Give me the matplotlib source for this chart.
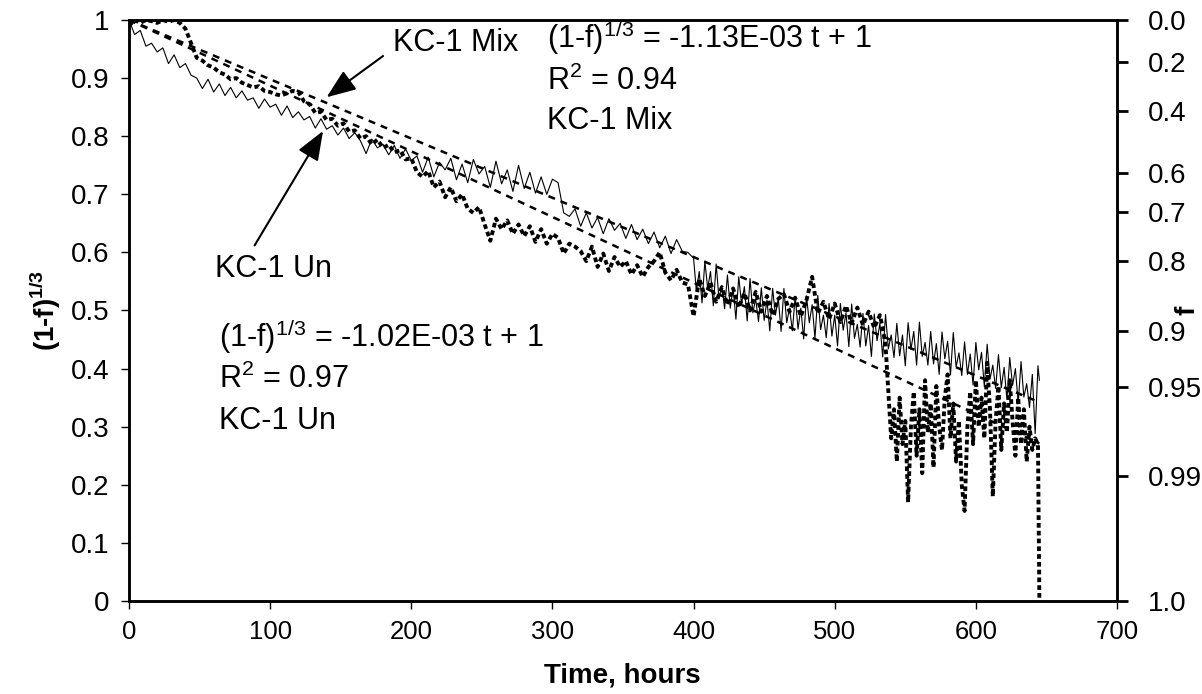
import numpy as np
import matplotlib
matplotlib.use("Agg")
import matplotlib.pyplot as plt

plt.rcParams["font.family"] = ["Liberation Sans", "DejaVu Sans"]
plt.rcParams["mathtext.fontset"] = "custom"
plt.rcParams["mathtext.rm"] = "Liberation Sans"
plt.rcParams["mathtext.bf"] = "Liberation Sans:bold"

# KC-1 Un: time (hours) and (1-f)^(1/3)
un_hours = [
    0, 4, 8, 12, 16, 20, 24, 28, 32, 36,
    40, 44, 48, 52, 56, 60, 64, 68, 72, 76,
    80, 84, 88, 92, 96, 100, 104, 108, 112, 116,
    120, 124, 128, 132, 136, 140, 144, 148, 152, 156,
    160, 164, 168, 172, 176, 180, 184, 188, 192, 196,
    200, 204, 208, 212, 216, 220, 224, 228, 232, 236,
    240, 244, 248, 252, 256, 260, 264, 268, 272, 276,
    280, 284, 288, 292, 296, 300, 304, 308, 312, 316,
    320, 324, 328, 332, 336, 340, 344, 348, 352, 356,
    360, 364, 368, 372, 376, 380, 384, 388, 392, 396,
    400, 402, 404, 406, 408, 410, 412, 414, 416, 418,
    420, 422, 424, 426, 428, 430, 432, 434, 436, 438,
    440, 442, 444, 446, 448, 450, 452, 454, 456, 458,
    460, 462, 464, 466, 468, 470, 472, 474, 476, 478,
    480, 482, 484, 486, 488, 490, 492, 494, 496, 498,
    500, 502, 504, 506, 508, 510, 512, 514, 516, 518,
    520, 522, 524, 526, 528, 530, 532, 534, 536, 538,
    540, 542, 544, 546, 548, 550, 552, 554, 556, 558,
    560, 562, 564, 566, 568, 570, 572, 574, 576, 578,
    580, 582, 584, 586, 588, 590, 592, 594, 596, 598,
    600, 602, 604, 606, 608, 610, 612, 614, 616, 618,
    620, 622, 624, 626, 628, 630, 632, 634, 636, 638,
    640, 642, 644, 645,
]
kc1_un = [
    1.0, 0.975, 0.982, 0.955, 0.96, 0.945, 0.952, 0.925, 0.94, 0.918,
    0.925, 0.905, 0.9, 0.882, 0.898, 0.876, 0.89, 0.87, 0.884, 0.866,
    0.878, 0.862, 0.866, 0.848, 0.864, 0.85, 0.855, 0.836, 0.852, 0.832,
    0.842, 0.828, 0.834, 0.814, 0.83, 0.812, 0.818, 0.802, 0.814, 0.796,
    0.806, 0.792, 0.77, 0.795, 0.78, 0.786, 0.768, 0.784, 0.762, 0.778,
    0.758, 0.766, 0.738, 0.764, 0.73, 0.755, 0.742, 0.762, 0.725, 0.752,
    0.72, 0.76, 0.735, 0.748, 0.712, 0.757, 0.718, 0.742, 0.705, 0.75,
    0.71, 0.738, 0.702, 0.73, 0.7, 0.726, 0.72, 0.668, 0.662, 0.675,
    0.645, 0.668, 0.642, 0.66, 0.632, 0.658, 0.638, 0.65, 0.624, 0.648,
    0.622, 0.64, 0.615, 0.635, 0.608, 0.628, 0.598, 0.622, 0.602, 0.6,
    0.590, 0.533, 0.567, 0.513, 0.585, 0.538, 0.567, 0.508, 0.580, 0.520,
    0.543, 0.503, 0.561, 0.504, 0.539, 0.485, 0.558, 0.511, 0.541, 0.482,
    0.555, 0.496, 0.520, 0.481, 0.539, 0.483, 0.518, 0.465, 0.538, 0.492,
    0.522, 0.464, 0.538, 0.479, 0.504, 0.465, 0.524, 0.468, 0.504, 0.451,
    0.525, 0.479, 0.510, 0.452, 0.526, 0.467, 0.492, 0.453, 0.512, 0.456,
    0.492, 0.439, 0.512, 0.466, 0.496, 0.438, 0.511, 0.452, 0.476, 0.437,
    0.495, 0.439, 0.474, 0.421, 0.494, 0.448, 0.478, 0.420, 0.493, 0.434,
    0.458, 0.419, 0.478, 0.422, 0.458, 0.405, 0.479, 0.433, 0.464, 0.406,
    0.480, 0.421, 0.445, 0.406, 0.464, 0.408, 0.443, 0.390, 0.463, 0.417,
    0.447, 0.389, 0.462, 0.403, 0.427, 0.388, 0.446, 0.390, 0.425, 0.372,
    0.445, 0.398, 0.428, 0.369, 0.442, 0.382, 0.406, 0.366, 0.424, 0.367,
    0.402, 0.347, 0.419, 0.371, 0.400, 0.340, 0.412, 0.351, 0.374, 0.333,
    0.390, 0.288, 0.405, 0.38,
]

# KC-1 Mix: time (hours) and (1-f)^(1/3)
mix_hours = [
    0, 4, 8, 12, 16, 20, 24, 28, 32, 36,
    40, 44, 48, 52, 56, 60, 64, 68, 72, 76,
    80, 84, 88, 92, 96, 100, 104, 108, 112, 116,
    120, 124, 128, 132, 136, 140, 144, 148, 152, 156,
    160, 164, 168, 172, 176, 180, 184, 188, 192, 196,
    200, 204, 208, 212, 216, 220, 224, 228, 232, 236,
    240, 244, 248, 252, 256, 260, 264, 268, 272, 276,
    280, 284, 288, 292, 296, 300, 304, 308, 312, 316,
    320, 324, 328, 332, 336, 340, 344, 348, 352, 356,
    360, 364, 368, 372, 376, 380, 384, 388, 392, 396,
    400, 404, 408, 412, 416, 420, 424, 428, 432, 436,
    440, 444, 448, 452, 456, 460, 464, 468, 472, 476,
    480, 484, 488, 492, 496, 500, 504, 508, 512, 516,
    520, 524, 528, 532,
    534, 536, 538, 540, 542, 544, 546, 548, 550, 552,
    554, 556, 558, 560, 562, 564, 566, 568, 570, 572,
    574, 576, 578, 580, 582, 584, 586, 588, 590, 592,
    594, 596, 598, 600, 602, 604, 606, 608, 610, 612,
    614, 616, 618, 620, 622, 624, 626, 628, 630, 632,
    634, 636, 638, 640, 642, 644, 645,
]
kc1_mix = [
    0.99, 1.0, 0.995, 1.0, 0.998, 0.995, 1.0, 0.997, 1.0, 0.995,
    0.985, 0.96, 0.935, 0.93, 0.922, 0.918, 0.91, 0.906, 0.898, 0.9,
    0.892, 0.888, 0.884, 0.886, 0.878, 0.876, 0.872, 0.87, 0.874, 0.878,
    0.876, 0.86, 0.855, 0.84, 0.842, 0.828, 0.83, 0.818, 0.822, 0.808,
    0.81, 0.796, 0.8, 0.786, 0.794, 0.78, 0.785, 0.772, 0.776, 0.76,
    0.762, 0.738, 0.73, 0.74, 0.712, 0.722, 0.695, 0.712, 0.688, 0.7,
    0.675, 0.668, 0.678, 0.648, 0.62, 0.658, 0.64, 0.655, 0.632, 0.648,
    0.628, 0.645, 0.618, 0.64, 0.615, 0.632, 0.625, 0.598, 0.615, 0.61,
    0.602, 0.585, 0.61, 0.575, 0.598, 0.568, 0.592, 0.575, 0.585, 0.562,
    0.578, 0.558, 0.575, 0.585, 0.6, 0.565, 0.552, 0.57, 0.548, 0.545,
    0.49, 0.555, 0.525, 0.548, 0.515, 0.54, 0.51, 0.538, 0.505, 0.53,
    0.5, 0.532, 0.498, 0.525, 0.492, 0.52, 0.528, 0.498, 0.522, 0.49,
    0.518, 0.558, 0.495, 0.515, 0.485, 0.512, 0.48, 0.508, 0.478, 0.505,
    0.475, 0.498, 0.47, 0.492,
    0.47, 0.44, 0.36, 0.28, 0.33, 0.24, 0.35, 0.27, 0.31, 0.17,
    0.3, 0.36, 0.25, 0.33, 0.22, 0.38, 0.29, 0.34, 0.23, 0.37,
    0.3, 0.26, 0.35, 0.39, 0.28, 0.34, 0.24, 0.31, 0.2, 0.155,
    0.3, 0.36, 0.27, 0.38, 0.3, 0.35, 0.28, 0.41, 0.33, 0.18,
    0.31, 0.37, 0.26, 0.34, 0.29, 0.38, 0.31, 0.25, 0.35, 0.27,
    0.33, 0.24, 0.3, 0.26, 0.28, 0.27, 0.0,
]

# linear fits as printed on the chart: (1-f)^(1/3) = slope * t + 1
fit_un = -1.02e-3
fit_mix = -1.13e-3
fit_span = [0, 645]

f_ticks = [0.0, 0.2, 0.4, 0.6, 0.7, 0.8, 0.9, 0.95, 0.99, 1.0]
f_labels = ["0.0", "0.2", "0.4", "0.6", "0.7", "0.8", "0.9", "0.95", "0.99", "1.0"]

XTICK_FS = 18.5
YTICK_FS = 20
LABEL_FS = 20
TEXT_FS = 22

fig = plt.figure(figsize=(12.02, 6.94), dpi=100)
ax = fig.add_axes([0.1073, 0.134, 0.822, 0.8372])

ax.plot(un_hours, kc1_un, color="black", lw=0.8)
ax.plot(mix_hours, kc1_mix, color="black", lw=2.8, linestyle=(0, (1.2, 0.8)))

t_fit = np.array(fit_span, dtype=float)
ax.plot(t_fit, 1 + fit_un * t_fit, color="black", lw=1.8, dashes=(2.8, 2.4))
ax.plot(t_fit, 1 + fit_mix * t_fit, color="black", lw=1.8, dashes=(2.8, 2.4))

ax.set_xlim(0, 700)
ax.set_ylim(0, 1)
ax.set_xticks(range(0, 701, 100))
ax.set_yticks([i / 10 for i in range(11)])
ax.set_yticklabels(["0", "0.1", "0.2", "0.3", "0.4", "0.5", "0.6", "0.7", "0.8", "0.9", "1"])
ax.tick_params(axis="x", direction="out", length=6, width=1, pad=8, labelsize=XTICK_FS)
ax.tick_params(axis="y", direction="out", length=6, width=1, pad=8, labelsize=YTICK_FS)
for sp in ax.spines.values():
    sp.set_linewidth(1.8)

ax.text(0.499, -0.129, "Time, hours", transform=ax.transAxes, fontsize=LABEL_FS,
        fontweight="bold", ha="center", va="center")
ax.text(-0.085, 0.5, r"(1-f)$^{\mathbf{1/3}}$", transform=ax.transAxes, fontsize=LABEL_FS,
        fontweight="bold", rotation=90, ha="center", va="center")

ax2 = ax.twinx()
ax2.set_ylim(0, 1)
ax2.set_yticks([(1 - f) ** (1 / 3) for f in f_ticks])
ax2.set_yticklabels(f_labels)
ax2.tick_params(axis="y", direction="out", length=8, width=2, pad=14, labelsize=YTICK_FS)
for sp in ax2.spines.values():
    sp.set_linewidth(1.8)
ax2.text(1.071, 0.5, "f", transform=ax2.transAxes, fontsize=LABEL_FS,
         fontweight="bold", rotation=90, ha="center", va="center")

# arrows with series names
arrow = dict(arrowstyle="-|>,head_length=0.9,head_width=0.35", color="black",
             lw=1.5, mutation_scale=20, shrinkA=0, shrinkB=0)
ax.annotate("", xy=(140, 0.867), xytext=(180, 0.938), arrowprops=arrow)
ax.annotate("", xy=(137.5, 0.809), xytext=(89, 0.612), arrowprops=arrow)
ax.text(187, 0.96, "KC-1 Mix", fontsize=TEXT_FS, va="center", ha="left")
ax.text(61, 0.571, "KC-1 Un", fontsize=TEXT_FS, va="center", ha="left")

# fit equations
ax.text(296, 0.969, r"(1-f)$^{1/3}$ = -1.13E-03 t + 1", fontsize=TEXT_FS, va="center")
ax.text(296, 0.895, r"R$^2$ = 0.94", fontsize=TEXT_FS, va="center")
ax.text(296, 0.826, "KC-1 Mix", fontsize=TEXT_FS, va="center")

ax.text(64, 0.455, r"(1-f)$^{1/3}$ = -1.02E-03 t + 1", fontsize=TEXT_FS, va="center")
ax.text(64, 0.381, r"R$^2$ = 0.97", fontsize=TEXT_FS, va="center")
ax.text(64, 0.309, "KC-1 Un", fontsize=TEXT_FS, va="center")

fig.savefig("out.png", dpi=100)
